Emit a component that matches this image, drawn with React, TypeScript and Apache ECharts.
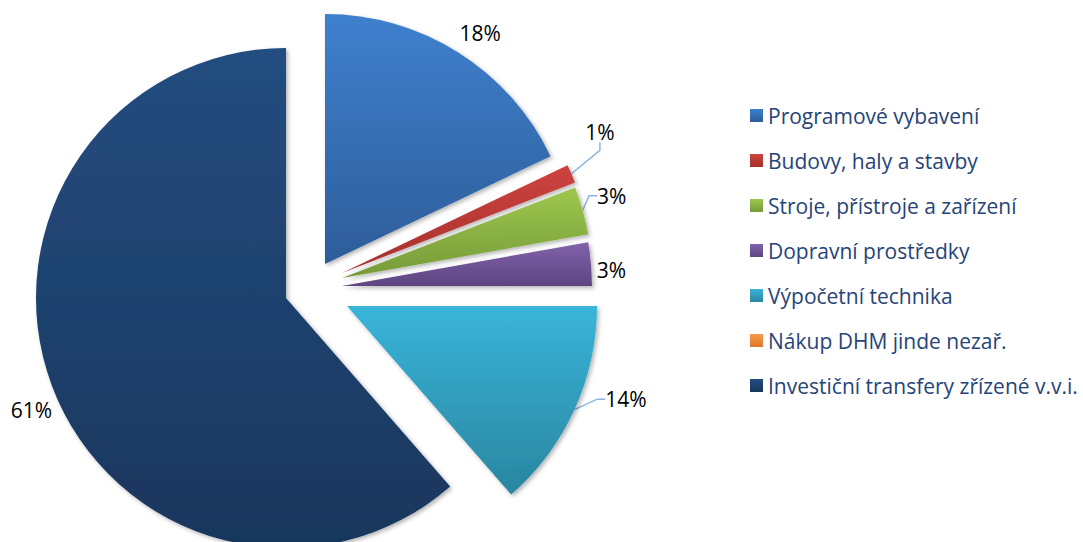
import React, { useEffect, useRef } from 'react';
import * as echarts from 'echarts';

// ---- data ----
const categories = [
  'Programové vybavení',
  'Budovy, haly a stavby',
  'Stroje, přístroje a zařízení',
  'Dopravní prostředky',
  'Výpočetní technika',
  'Nákup DHM jinde nezař.',
  'Investiční transfery zřízené v.v.i.',
];
const shares = [17.9, 1.2, 3.1, 2.8, 13.6, 0, 61.4];

// ---- styles ----
const topColors = ['#3E80CE', '#CD433F', '#9DC84D', '#8162AB', '#39B5D9', '#F9994A', '#244D80'];
const bottomColors = ['#2E5D99', '#A6302D', '#769A39', '#5E4580', '#2A85A0', '#E0772A', '#19365C'];
const explode = [[16, -25], [33, -16], [33, -11], [33, -3], [38, 17], [0, 0], [-23, 9]];
const labelRadius = [278, 294, 282, 270, 294, 0, 278];
const labelAngleShift = [1.7, -5.3, -1.3, 1.6, -6, 0, -3.2];
const showLeader = [false, true, true, false, true, false, false];
const BASE = [309, 289];
const R = 250;
const FONT = '"Open Sans", sans-serif';

export default function App() {
  const ref = useRef<HTMLDivElement>(null);
  useEffect(() => {
    if (!ref.current) return;
    const chart = echarts.init(ref.current, undefined, { renderer: 'svg' });
    const total = shares.reduce((a, b) => a + b, 0);
    let cum = 0;
    const series = shares.map((v, i) => {
      const start = cum;
      cum += v;
      const startAngle = 90 - (start / total) * 360;
      const mid = ((start + v / 2) / total) * 360;
      const cx = BASE[0] + explode[i][0];
      const cy = BASE[1] + explode[i][1];
      const la = ((mid + labelAngleShift[i]) * Math.PI) / 180;
      const lx = cx + labelRadius[i] * Math.sin(la);
      const ly = cy - labelRadius[i] * Math.cos(la);
      const pct = Math.round((v / total) * 100) + '%';
      return {
        type: 'pie',
        center: [cx, cy],
        radius: [0, R],
        startAngle,
        clockwise: true,
        avoidLabelOverlap: false,
        silent: true,
        legendHoverLink: false,
        emphasis: { disabled: true },
        label: {
          show: v > 0,
          position: 'outside',
          formatter: pct,
          color: '#000',
          fontSize: 21,
          fontFamily: FONT,
        },
        labelLine: {
          show: showLeader[i],
          length: 10,
          length2: 8,
          lineStyle: { color: '#8EB4E3', width: 1.5 },
        },
        labelLayout: () => ({ x: lx, y: ly, align: 'center', verticalAlign: 'middle' }),
        data: [
          {
            name: categories[i],
            value: v,
            itemStyle: {
              color: new echarts.graphic.LinearGradient(0, 0, 0, 1, [
                { offset: 0, color: topColors[i] },
                { offset: 1, color: bottomColors[i] },
              ]),
              borderWidth: 0,
              shadowBlur: 4,
              shadowOffsetX: 2,
              shadowOffsetY: 2,
              shadowColor: 'rgba(0,0,0,0.3)',
            },
          },
          {
            name: '__rest' + i,
            value: total - v,
            itemStyle: { color: 'rgba(0,0,0,0)', borderWidth: 0, shadowBlur: 0, shadowColor: 'rgba(0,0,0,0)' },
            label: { show: false },
            labelLine: { show: false },
          },
        ],
      };
    });
    chart.setOption({
      animation: false,
      backgroundColor: '#fff',
      legend: {
        orient: 'vertical',
        left: 750,
        top: 105,
        padding: 0,
        itemWidth: 13,
        itemHeight: 13,
        itemGap: 24,
        icon: 'rect',
        selectedMode: false,
        data: categories.map((name, i) => ({
          name,
          itemStyle: {
            color: new echarts.graphic.LinearGradient(0, 0, 0, 1, [
              { offset: 0, color: topColors[i] },
              { offset: 1, color: bottomColors[i] },
            ]),
            shadowBlur: 0,
            shadowOffsetX: 0,
            shadowOffsetY: 0,
          },
        })),
        textStyle: { fontSize: 21, lineHeight: 21, color: '#264478', fontFamily: FONT },
      },
      series,
    } as any);
    return () => chart.dispose();
  }, []);
  return <div ref={ref} style={{ position: 'absolute', left: 0, top: 0, width: 1083, height: 542 }} />;
}
